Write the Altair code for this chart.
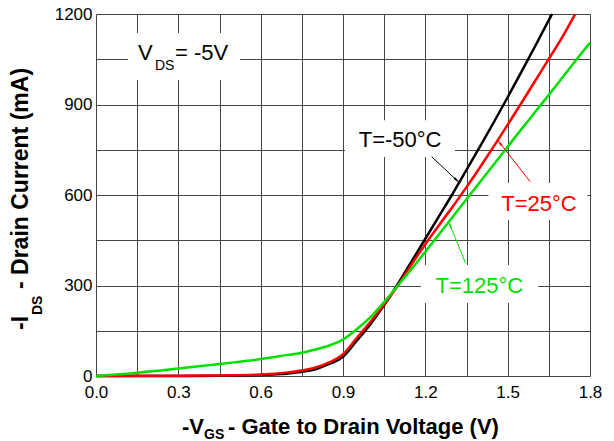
import altair as alt
import pandas as pd

# ---------------- data ----------------
vgs_m50 = [0.0, 0.3, 0.45, 0.6, 0.7, 0.75, 0.8, 0.85, 0.9, 0.95, 1.0, 1.05, 1.1, 1.15,
           1.2, 1.25, 1.3, 1.35, 1.4, 1.45, 1.5, 1.55, 1.6, 1.65, 1.662]
ids_m50 = [0, 0, 1, 3, 8, 14, 22, 40, 64, 117, 172, 235, 305, 380,
           455, 530, 605, 683, 762, 842, 924, 1008, 1093, 1180, 1200]

vgs_25 = [0.0, 0.3, 0.45, 0.6, 0.7, 0.75, 0.8, 0.85, 0.9, 0.95, 1.0, 1.05, 1.1, 1.15,
          1.2, 1.25, 1.3, 1.35, 1.4, 1.45, 1.5, 1.55, 1.6, 1.65, 1.7, 1.746]
ids_25 = [0, 1, 2, 5, 12, 18, 28, 45, 72, 126, 180, 238, 300, 370,
          437, 500, 562, 626, 693, 762, 833, 905, 978, 1051, 1125, 1200]

vgs_125 = [0.0, 0.15, 0.3, 0.45, 0.6, 0.7, 0.75, 0.8, 0.85, 0.9, 0.95, 1.0, 1.05, 1.1,
           1.15, 1.2, 1.25, 1.3, 1.35, 1.4, 1.45, 1.5, 1.55, 1.6, 1.65, 1.7, 1.75, 1.8]
ids_125 = [0, 11, 25, 40, 56, 70, 77, 88, 101, 121, 155, 195, 245, 300,
           355, 412, 470, 528, 586, 644, 702, 760, 818, 875, 932, 990, 1048, 1105]

series_names = ["T=-50°C", "T=25°C", "T=125°C"]
series_colors = ["#000000", "#ff0000", "#00e000"]

x_ticks = [round(k * 0.15, 2) for k in range(13)]
y_ticks = [k * 150 for k in range(9)]

# label boxes (white backgrounds), in data units
box_v1 = [0.117, 0.907, 1.43, 1.184]
box_v2 = [0.525, 1.308, 1.79, 1.611]
box_i1 = [981, 726, 517, 242]
box_i2 = [1137, 848, 640, 368]

# annotation labels
ann_text = ["T=-50°C", "T=25°C", "T=125°C"]
ann_v = [1.108, 1.614, 1.397]
ann_i = [759, 547, 275]

# arrows: start (at label) -> end (at curve)
arr_v0 = [1.223, 1.582, 1.347]
arr_i0 = [727, 644, 373]
arr_v1 = [1.313, 1.472, 1.290]
arr_i1 = [650, 772, 500]
arr_angle = [133, 322, 338]

# ---------------- tables ----------------
rows = []
for name, vs, iss in zip(series_names, [vgs_m50, vgs_25, vgs_125], [ids_m50, ids_25, ids_125]):
    for v, i in zip(vs, iss):
        rows.append({"v": v, "i": i, "series": name})
curves = pd.DataFrame(rows)

boxes = pd.DataFrame({"v": box_v1, "v2": box_v2, "i": box_i1, "i2": box_i2})
anns = pd.DataFrame({"v": ann_v, "i": ann_i, "label": ann_text, "series": ann_text})

arr_rows = []
for k in range(3):
    arr_rows.append({"v": arr_v0[k], "i": arr_i0[k], "series": series_names[k], "aid": k, "o": 0})
    arr_rows.append({"v": arr_v1[k], "i": arr_i1[k], "series": series_names[k], "aid": k, "o": 1})
arrows = pd.DataFrame(arr_rows)
heads = pd.DataFrame({"v": arr_v1, "i": arr_i1, "series": series_names, "ang": arr_angle})

FONT = "Liberation Sans"
GRID = "#444444"

xscale = alt.Scale(domain=[0, 1.8], nice=False, zero=False)
yscale = alt.Scale(domain=[0, 1200], nice=False)
cscale = alt.Scale(domain=series_names, range=series_colors)

xaxis = alt.Axis(values=x_ticks, grid=True, ticks=False, domain=False, title=None,
                 labelExpr="round(datum.value / 0.15) % 2 == 0 ? format(datum.value, '.1f') : ''",
                 labelFont=FONT, labelFontSize=17, labelColor="#000", labelPadding=8,
                 labelFlush=False, labelOverlap=False, gridColor=GRID, gridWidth=1)
yaxis = alt.Axis(values=y_ticks, grid=True, ticks=False, domain=False, title=None,
                 labelExpr="datum.value % 300 == 0 ? format(datum.value, 'd') : ''",
                 labelFont=FONT, labelFontSize=17, labelColor="#000", labelPadding=4,
                 labelFlush=False, labelOverlap=False, gridColor=GRID, gridWidth=1)

X = alt.X("v:Q", scale=xscale, axis=xaxis)
Y = alt.Y("i:Q", scale=yscale, axis=yaxis)

box_layer = alt.Chart(boxes).mark_rect(color="white").encode(
    x=X, x2="v2:Q", y=Y, y2="i2:Q")

lines = alt.Chart(curves).mark_line(strokeWidth=2.5, interpolate="monotone").encode(
    x=X, y=Y, color=alt.Color("series:N", scale=cscale, legend=None),
    detail="series:N")

arrow_lines = alt.Chart(arrows).mark_line(strokeWidth=1).encode(
    x=X, y=Y, color=alt.Color("series:N", scale=cscale, legend=None),
    detail="aid:N", order="o:Q")

arrow_heads = alt.Chart(heads).mark_point(shape="wedge", filled=True, size=85, opacity=1).encode(
    x=X, y=Y, color=alt.Color("series:N", scale=cscale, legend=None),
    angle=alt.Angle("ang:Q", scale=None))

ann_layer = alt.Chart(anns).mark_text(font=FONT, fontSize=22, align="center", baseline="alphabetic").encode(
    x=X, y=Y, text="label:N", color=alt.Color("series:N", scale=cscale, legend=None))

# V_DS = -5V label
vds_main = pd.DataFrame({"v": [0.153], "i": [1047], "label": ["V"]})
vds_sub = pd.DataFrame({"v": [0.153], "i": [1047], "label": ["DS"]})
vds_rest = pd.DataFrame({"v": [0.153], "i": [1047], "label": ["= -5V"]})
vds1 = alt.Chart(vds_main).mark_text(font=FONT, fontSize=22, align="left", baseline="alphabetic", color="black").encode(
    x=X, y=Y, text="label:N")
vds2 = alt.Chart(vds_sub).mark_text(font=FONT, fontSize=14, align="left", baseline="alphabetic", color="black", dx=17, dy=10).encode(
    x=X, y=Y, text="label:N")
vds3 = alt.Chart(vds_rest).mark_text(font=FONT, fontSize=22, align="left", baseline="alphabetic", color="black", dx=37).encode(
    x=X, y=Y, text="label:N")

# axis titles built from pieces (for subscripts), pixel positions relative to plot area
def piece(txt, px, py, size, angle=0):
    return alt.Chart(pd.DataFrame({"label": [txt]})).mark_text(
        font=FONT, fontSize=size, fontWeight="bold", align="left", baseline="alphabetic",
        color="black", angle=angle).encode(x=alt.value(px), y=alt.value(py), text="label:N")

xt1 = piece("-V", 86, 420, 22)
xt2 = piece("GS", 108, 425, 14)
xt3 = piece("- Gate to Drain Voltage (V)", 132, 420, 22)

yt1 = piece("-I", -68, 316, 23, 270)
yt2 = piece("DS", -54, 301, 14, 270)
yt3 = piece("- Drain Current (mA)", -68, 275, 23, 270)

chart = alt.layer(
    box_layer, lines, arrow_lines, arrow_heads, ann_layer, vds1, vds2, vds3,
    xt1, xt2, xt3, yt1, yt2, yt3
).properties(
    width=494, height=362,
    autosize=alt.AutoSizeParams(type="none"),
    padding={"left": 88, "top": 6, "right": 16, "bottom": 66},
).configure_view(
    stroke="black", strokeWidth=2.5
).configure(background="white")

chart.save("out.html", embed_options={"renderer": "svg", "actions": False})
